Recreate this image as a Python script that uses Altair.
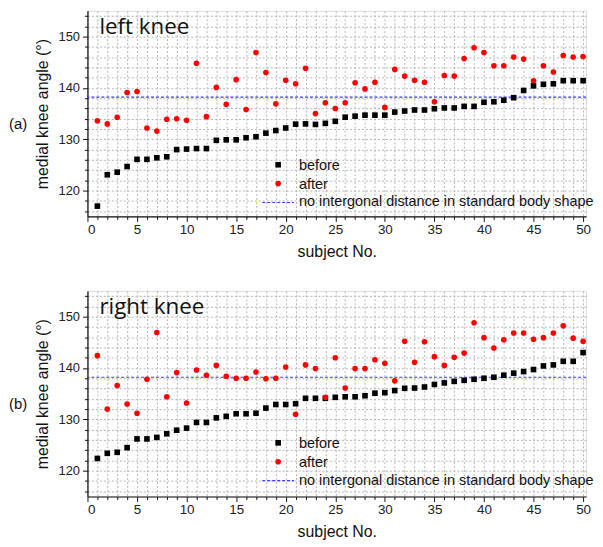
import altair as alt
import pandas as pd

subjects = list(range(1, 51))

left_before = [117.0, 123.1, 123.6, 124.7, 126.1, 126.1, 126.4, 126.6, 128.0, 128.1,
               128.2, 128.2, 129.8, 129.9, 129.9, 130.3, 130.5, 131.2, 131.7, 132.2,
               132.95, 133.0, 132.9, 133.1, 133.5, 134.3, 134.5, 134.7, 134.7, 134.7,
               135.3, 135.5, 135.7, 135.7, 135.95, 136.1, 136.1, 136.4, 136.4, 137.2,
               137.3, 137.6, 138.1, 139.5, 140.4, 140.7, 140.8, 141.4, 141.4, 141.4]
left_after = [133.6, 133.0, 134.3, 139.1, 139.3, 132.2, 131.6, 133.9, 134.0, 133.7,
              144.8, 134.4, 140.1, 136.8, 141.6, 135.8, 146.9, 143.0, 136.9, 141.5,
              140.8, 143.8, 135.0, 137.1, 136.0, 137.1, 141.0, 139.8, 141.1, 136.2,
              143.6, 142.3, 141.5, 141.1, 137.3, 142.4, 142.3, 145.7, 147.8, 146.9,
              144.3, 144.3, 146.0, 145.6, 141.4, 144.3, 143.1, 146.3, 146.0, 146.1]
right_before = [122.4, 123.4, 123.6, 124.5, 126.2, 126.2, 126.5, 127.2, 127.9, 128.3,
                129.4, 129.4, 130.3, 130.6, 131.1, 131.1, 131.2, 132.2, 132.9, 132.9,
                133.05, 134.1, 134.1, 134.1, 134.3, 134.4, 134.4, 134.6, 135.1, 135.2,
                135.6, 136.05, 136.1, 136.3, 136.8, 137.1, 137.4, 137.6, 137.8, 138.0,
                138.2, 138.6, 139.0, 139.3, 139.7, 140.4, 140.6, 141.3, 141.3, 143.0]
right_after = [142.4, 132.0, 136.6, 133.0, 131.2, 137.8, 146.9, 134.4, 139.1, 133.2,
               139.6, 138.6, 140.5, 138.4, 138.0, 138.0, 139.2, 137.9, 138.0, 140.2,
               131.0, 140.6, 139.9, 134.3, 142.0, 136.1, 139.9, 139.9, 141.6, 140.9,
               137.5, 145.2, 141.1, 145.1, 142.2, 140.5, 142.1, 142.9, 148.8, 145.9,
               143.9, 145.5, 146.8, 146.8, 145.6, 145.9, 146.8, 148.2, 145.8, 145.2]
reference_angle = 138.2

series_labels = ["before", "after", "no intergonal distance in standard body shape"]
panel_names = ["left knee", "right knee"]
panel_tags = ["(a)", "(b)"]
x_title = "subject No."
y_title = "medial knee angle (°)"

W, H = 502, 207
AXFONT = "Liberation Sans"


def panel(before, after, name, tag, ldx, ldy):
    dfb = pd.DataFrame({"subject": subjects, "angle": before})
    dfa = pd.DataFrame({"subject": subjects, "angle": after})
    x = alt.X("subject:Q",
              scale=alt.Scale(domain=[0, 50.3], nice=False, zero=False),
              axis=alt.Axis(values=list(range(0, 51)),
                            labelExpr="datum.value % 5 === 0 ? datum.label : ''",
                            tickSize={"condition": {"test": "datum.value % 5 === 0", "value": 5}, "value": 3},
                            grid=True, gridDash=[2, 2], gridColor="#b4b4b4", gridWidth=1,
                            domainColor="#111", tickColor="#111", domainWidth=1.2,
                            labelFont=AXFONT, labelFontSize=13.5, labelColor="#222", labelPadding=1,
                            titleFont=AXFONT, titleFontSize=16, titleFontWeight="normal",
                            titleColor="#111", titlePadding=8),
              title=x_title)
    y = alt.Y("angle:Q",
              scale=alt.Scale(domain=[115, 155], nice=False, zero=False),
              axis=alt.Axis(values=list(range(116, 155, 2)) + [120, 130, 140, 150],
                            labelExpr="datum.value % 10 === 0 ? datum.label : ''",
                            tickSize={"condition": {"test": "datum.value % 10 === 0", "value": 5}, "value": 3},
                            grid=True, gridDash=[2, 2], gridColor="#b4b4b4", gridWidth=1,
                            domainColor="#111", tickColor="#111", domainWidth=1.2,
                            labelFont=AXFONT, labelFontSize=13, labelColor="#222", labelPadding=3,
                            titleFont=AXFONT, titleFontSize=16, titleFontWeight="normal",
                            titleColor="#111", titlePadding=8),
              title=y_title)
    ref = alt.Chart(pd.DataFrame({"angle": [reference_angle]})).mark_rule(
        color="#3a3aff", strokeDash=[3, 2], strokeWidth=1.2).encode(y=y)
    pb = alt.Chart(dfb).mark_point(shape="square", filled=True, size=32, color="black",
                                   opacity=1).encode(x=x, y=y)
    pa = alt.Chart(dfa).mark_point(shape="circle", filled=True, size=32, color="#ff0000",
                                   opacity=1).encode(x=x, y=y)
    title = alt.Chart(pd.DataFrame({"t": [name]})).mark_text(
        align="left", baseline="alphabetic", font="Open Sans", fontSize=22.5, color="#111").encode(
        text="t:N", x=alt.value(12), y=alt.value(23))
    tagt = alt.Chart(pd.DataFrame({"t": [tag]})).mark_text(
        align="left", baseline="middle", font=AXFONT, fontSize=15, color="#111").encode(
        text="t:N", x=alt.value(-79), y=alt.value(114))
    leg_b = alt.Chart(pd.DataFrame({"t": [series_labels[0]]})).mark_point(
        shape="square", filled=True, size=32, color="black", opacity=1).encode(
        x=alt.value(192 + ldx), y=alt.value(155 + ldy))
    leg_a = alt.Chart(pd.DataFrame({"t": [series_labels[1]]})).mark_point(
        shape="circle", filled=True, size=32, color="#ff0000", opacity=1).encode(
        x=alt.value(192 + ldx), y=alt.value(174 + ldy))
    leg_l = alt.Chart(pd.DataFrame({"t": [series_labels[2]]})).mark_rule(
        color="#3a3aff", strokeDash=[3, 2], strokeWidth=1.2).encode(
        x=alt.value(176 + ldx), x2=alt.value(208 + ldx), y=alt.value(193 + ldy))
    leg_t = alt.Chart(pd.DataFrame({"t": series_labels, "yy": [156 + ldy, 175 + ldy, 193 + ldy]})).mark_text(
        align="left", baseline="middle", font=AXFONT, fontSize=14.5, color="#111").encode(
        text="t:N", x=alt.value(213 + ldx), y=alt.Y("yy:Q", scale=None, axis=None))
    return alt.layer(ref, pb, pa, title, tagt, leg_b, leg_a, leg_l, leg_t).properties(width=W, height=H)


top = panel(left_before, left_after, panel_names[0], panel_tags[0], 0, 0)
bottom = panel(right_before, right_after, panel_names[1], panel_tags[1], 0, -2)

chart = alt.vconcat(top, bottom, spacing=30).properties(
    padding={"left": 0, "top": 0, "right": 0, "bottom": 0}
).configure_view(stroke=None).configure(background="white")

chart.save("out.html", embed_options={"renderer": "svg", "actions": False})
